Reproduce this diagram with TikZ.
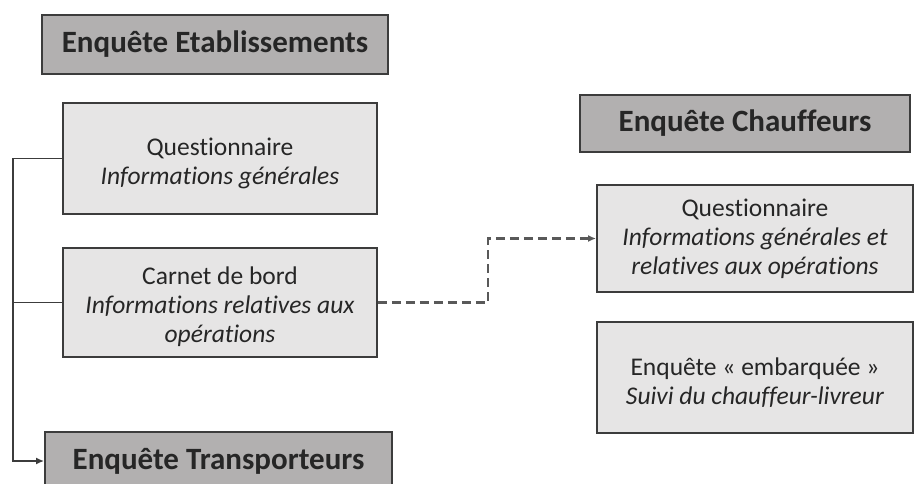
\documentclass[tikz,border=0pt]{standalone}
\usepackage{fontspec}
\setmainfont{Carlito}[Ligatures=NoCommon]
\usetikzlibrary{arrows.meta}
\definecolor{hdrfill}{HTML}{B2B0B0}
\definecolor{boxfill}{HTML}{E6E5E5}
\definecolor{edge}{HTML}{3C3C3C}
\definecolor{txt}{HTML}{262626}
\newcommand{\lowstrut}{\rule{0pt}{27pt}}
\tikzset{
  hdr/.style={draw=edge, line width=1.9pt, fill=hdrfill, inner sep=0pt, text=txt,
    font=\fontsize{31}{36}\selectfont\bfseries},
  infobox/.style={draw=edge, line width=1.8pt, fill=boxfill, inner sep=0pt, align=center,
    text=txt, font=\fontsize{25.5}{29}\selectfont},
  link/.style={draw=edge, line width=1.8pt},
  tip/.style={-{Latex[length=8pt,width=7pt]}}
}
\begin{document}
\begin{tikzpicture}[x=1pt,y=-1pt]
\useasboundingbox[fill=white] (0,0) rectangle (915,483);
\node[hdr, minimum width=346pt, minimum height=59pt] (estab) at (215,44.5) {Enquête Etablissements};
\node[infobox, minimum width=314pt, minimum height=111pt] (q1) at (220,158.5)
  {\lowstrut Questionnaire\\\textit{Informations générales}};
\node[infobox, minimum width=314pt, minimum height=109pt] (carnet) at (220,302.5)
  {\lowstrut Carnet de bord\\\textit{Informations relatives aux}\\\textit{opérations}};
\node[hdr, minimum width=347pt, minimum height=58pt] (transp) at (218.5,461) {\raisebox{-1pt}{Enquête Transporteurs}};
\node[hdr, minimum width=330pt, minimum height=57pt] (chauff) at (745,123.5) {Enquête Chauffeurs};
\node[infobox, minimum width=316pt, minimum height=107pt] (q2) at (755,238.5)
  {Questionnaire\\\textit{Informations générales et}\\\textit{relatives aux opérations}};
\node[infobox, minimum width=316pt, minimum height=111pt] (emb) at (755,377.5)
  {\lowstrut Enquête « embarquée »\\\textit{Suivi du chauffeur-livreur}};
\coordinate (lx) at (13,461);
\draw[link, tip] (q1.west) -| (lx) -- (transp.west);
\draw[link] (carnet.west) -- (carnet.west -| lx);
\draw[link, draw=edge!85, line width=2.3pt, dash pattern=on 9pt off 5pt, tip] (carnet.east) -- ++(110,0) |- (q2.west);
\end{tikzpicture}
\end{document}
